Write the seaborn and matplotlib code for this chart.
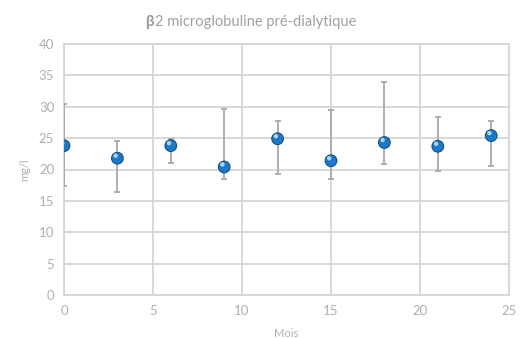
import numpy as np
import pandas as pd
import matplotlib
matplotlib.use("Agg")
import matplotlib.pyplot as plt
import seaborn as sns

# Mean value per visit month with lower / upper bounds of the error bars
months = [0, 3, 6, 9, 12, 15, 18, 21, 24]
means = [23.8, 21.8, 23.8, 20.4, 24.9, 21.4, 24.3, 23.7, 25.4]
lows = [17.3, 16.4, 21.1, 18.5, 19.3, 18.5, 20.9, 19.8, 20.6]
highs = [30.5, 24.6, 24.8, 29.6, 27.8, 29.5, 33.9, 28.3, 27.8]

x_ticks = [0, 5, 10, 15, 20, 25]
y_ticks = [0, 5, 10, 15, 20, 25, 30, 35, 40]

df = pd.DataFrame({"Mois": months, "mg/l": means, "low": lows, "high": highs})

sns.set_theme(style="white")
plt.rcParams["font.family"] = ["Lato", "DejaVu Sans"]

grey_text = "#b0b0b0"
grid_col = "#d6d6d6"

fig = plt.figure(figsize=(5.3, 3.38), dpi=100)
ax = fig.add_axes([64 / 530, 1 - 295 / 338, 445 / 530, 251 / 338])

ax.set_xlim(0, 25)
ax.set_ylim(0, 40)
ax.set_xticks(x_ticks)
ax.set_yticks(y_ticks)
ax.grid(True, color=grid_col, linewidth=1.3)
ax.set_axisbelow(True)
for s in ax.spines.values():
    s.set_color(grid_col)
    s.set_linewidth(1.3)
ax.tick_params(length=0, labelsize=9.5, labelcolor=grey_text, pad=7)

# asymmetric error bars
yerr = np.array([df["mg/l"] - df["low"], df["high"] - df["mg/l"]])
ax.errorbar(df["Mois"], df["mg/l"], yerr=yerr, fmt="none", ecolor="#a8a8a8",
            elinewidth=1.3, capsize=2.3, capthick=1.3, zorder=3)

# glossy blue markers: shadow, body, highlight
sns.scatterplot(data=df, x="Mois", y="mg/l", ax=ax, s=85, color="#0f4f86",
                edgecolor="none", zorder=4, legend=False)
sns.scatterplot(data=df, x="Mois", y="mg/l", ax=ax, s=60, color="#1f78c4",
                edgecolor="none", zorder=5, legend=False)
sns.scatterplot(x=df["Mois"] - 0.1, y=df["mg/l"] + 0.4, ax=ax, s=10,
                color="#a9d6f7", edgecolor="none", zorder=6, legend=False)

ax.set_xlabel("Mois", color=grey_text, fontsize=8, labelpad=8)
ax.set_ylabel("mg/l", color=grey_text, fontsize=8, labelpad=6)

# title with bold beta
beta = fig.text(145 / 530, 0.935, "β", fontsize=11, color="#9a9a9a",
                fontweight="bold", ha="left", va="center")
fig.canvas.draw()
bb = beta.get_window_extent()
fig.text(bb.x1 / (fig.dpi * 5.3) + 0.002, 0.935, "2 microglobuline pré-dialytique",
         fontsize=10.5, color="#a0a0a0", ha="left", va="center")

fig.savefig("out.png", dpi=100)
